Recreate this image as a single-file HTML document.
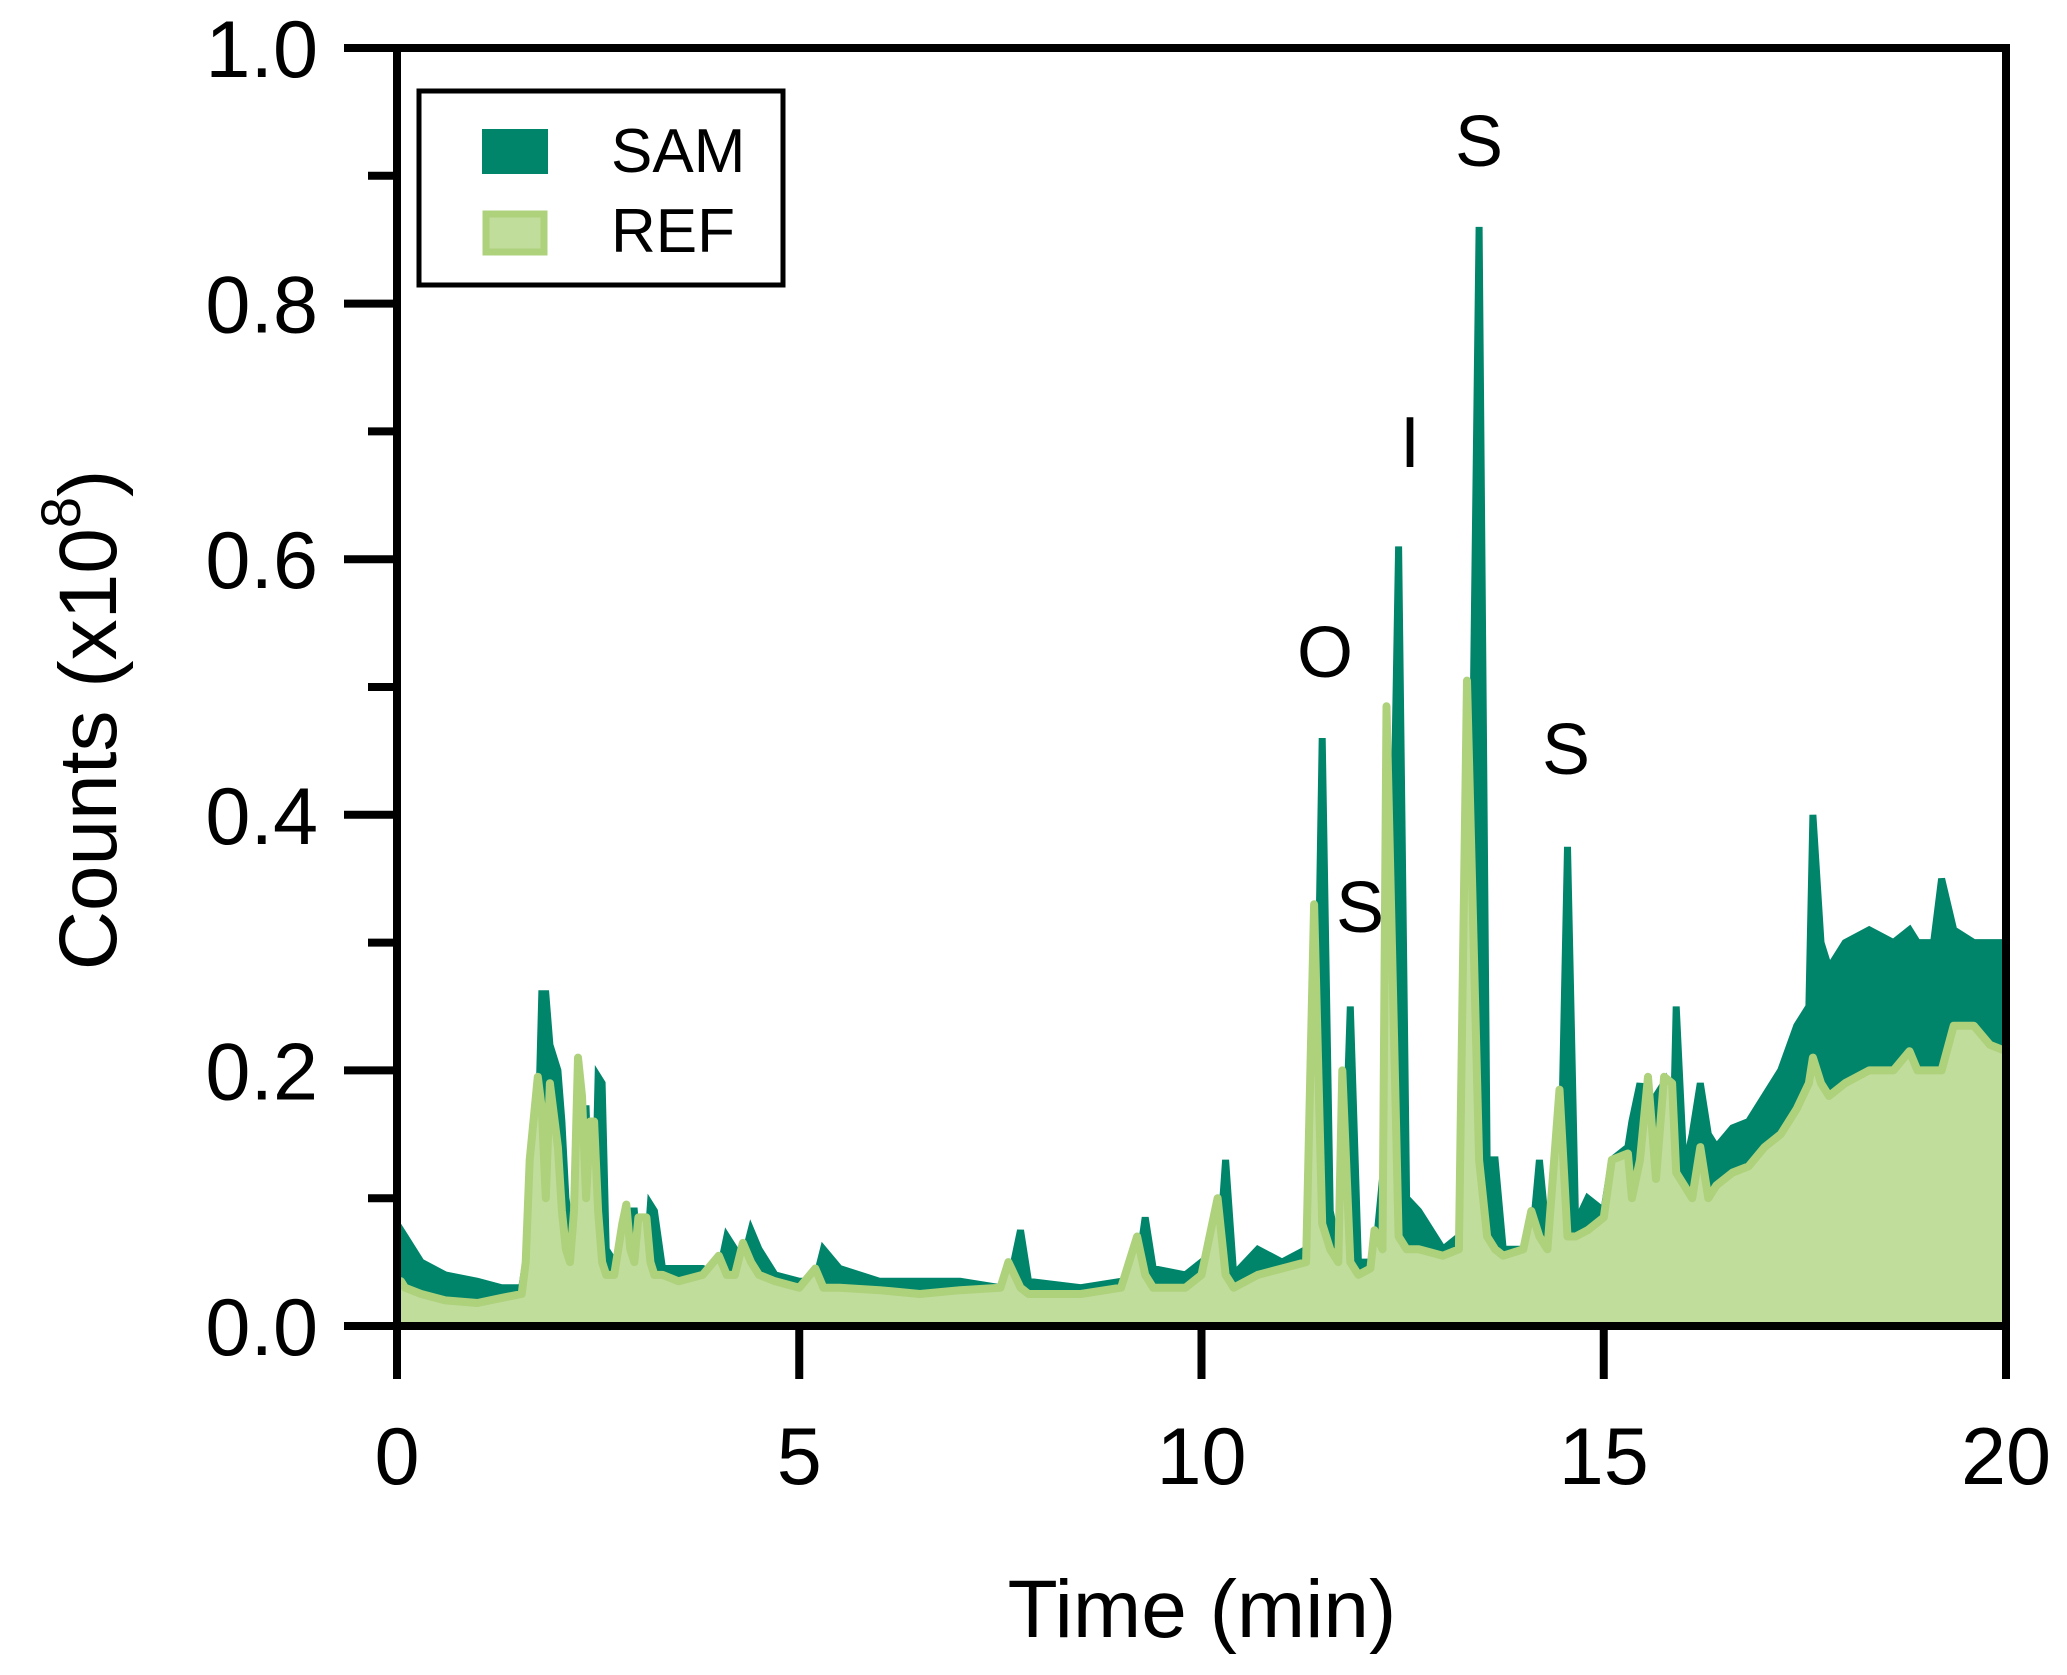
<!DOCTYPE html>
<html><head><meta charset="utf-8"><style>
html,body{margin:0;padding:0;background:#fff;}
svg{display:block;font-family:"Liberation Sans",sans-serif;}
</style></head><body>
<svg id="chart" width="2067" height="1675" viewBox="0 0 2067 1675" xmlns="http://www.w3.org/2000/svg">
<g id="plot"></g>
<g id="axes"></g>
<text x="1202" y="1637" font-size="82" text-anchor="middle">Time (min)</text>
<text transform="translate(116,720) rotate(-90)" font-size="82" text-anchor="middle">Counts (x10<tspan font-size="56" dy="-36">8</tspan><tspan dy="36">)</tspan></text>
<g>
<rect x="419" y="91" width="364" height="194" fill="#fff" stroke="#000" stroke-width="5"/>
<rect x="482" y="129" width="66" height="45" fill="#00856b"/>
<text x="611" y="172" font-size="62">SAM</text>
<rect x="486" y="214" width="58" height="38" fill="#c1dd9c" stroke="#aed17c" stroke-width="7"/>
<text x="611" y="252" font-size="62">REF</text>
</g>
<g font-size="72" text-anchor="middle">
<text x="1479" y="166">S</text>
<text x="1410" y="467">I</text>
<text x="1325" y="677">O</text>
<text x="1360" y="932">S</text>
<text x="1566" y="774">S</text>
</g>
</svg>
<script>
const times=[0,0.05,0.1,0.3,0.6,1.0,1.3,1.55,1.6,1.65,1.75,1.8,1.85,1.9,2.0,2.05,2.1,2.15,2.2,2.25,2.3,2.35,2.4,2.45,2.5,2.55,2.6,2.7,2.8,2.85,2.9,2.95,3.0,3.1,3.15,3.2,3.3,3.5,3.8,4.0,4.1,4.2,4.3,4.4,4.5,4.7,5.0,5.2,5.3,5.5,6.0,6.5,7.0,7.5,7.6,7.75,7.85,8.5,9.0,9.2,9.3,9.4,9.8,10.0,10.2,10.3,10.4,10.7,11.0,11.3,11.4,11.5,11.6,11.7,11.75,11.85,11.95,12.1,12.15,12.25,12.3,12.45,12.55,12.7,13.0,13.2,13.3,13.45,13.55,13.65,13.75,14.0,14.1,14.2,14.3,14.45,14.55,14.65,14.8,15.0,15.1,15.3,15.35,15.45,15.55,15.65,15.75,15.85,15.9,16.0,16.1,16.2,16.3,16.4,16.6,16.8,17.0,17.2,17.4,17.55,17.6,17.7,17.8,18.0,18.3,18.6,18.8,18.9,19.1,19.2,19.35,19.6,19.8,20.0];
const samValues=[0.04,0.075,0.07,0.05,0.04,0.035,0.03,0.03,0.05,0.13,0.14,0.26,0.26,0.22,0.20,0.16,0.10,0.08,0.06,0.10,0.17,0.17,0.08,0.06,0.195,0.19,0.06,0.05,0.05,0.06,0.09,0.09,0.05,0.05,0.095,0.09,0.045,0.045,0.045,0.04,0.07,0.06,0.05,0.075,0.06,0.04,0.035,0.035,0.06,0.045,0.035,0.035,0.035,0.03,0.03,0.075,0.035,0.03,0.035,0.04,0.085,0.045,0.04,0.05,0.04,0.13,0.04,0.06,0.05,0.06,0.07,0.46,0.09,0.06,0.06,0.25,0.05,0.05,0.05,0.115,0.06,0.61,0.10,0.09,0.06,0.07,0.08,0.86,0.13,0.13,0.06,0.06,0.06,0.13,0.065,0.07,0.375,0.08,0.10,0.09,0.13,0.14,0.16,0.19,0.10,0.18,0.19,0.11,0.25,0.12,0.15,0.19,0.15,0.14,0.155,0.16,0.18,0.20,0.235,0.25,0.40,0.30,0.28,0.30,0.31,0.30,0.31,0.30,0.30,0.35,0.31,0.30,0.30,0.30];
const refValues=[0.03,0.035,0.03,0.025,0.02,0.018,0.022,0.025,0.05,0.13,0.195,0.17,0.10,0.19,0.14,0.09,0.06,0.05,0.09,0.21,0.18,0.10,0.16,0.16,0.09,0.05,0.04,0.04,0.08,0.095,0.06,0.05,0.085,0.085,0.05,0.04,0.04,0.035,0.04,0.055,0.04,0.04,0.065,0.05,0.04,0.035,0.03,0.045,0.03,0.03,0.028,0.025,0.028,0.03,0.05,0.03,0.025,0.025,0.03,0.07,0.04,0.03,0.03,0.04,0.10,0.04,0.03,0.04,0.045,0.05,0.33,0.08,0.06,0.05,0.20,0.05,0.04,0.045,0.075,0.06,0.485,0.07,0.06,0.06,0.055,0.06,0.505,0.13,0.07,0.06,0.055,0.06,0.09,0.07,0.06,0.185,0.07,0.07,0.075,0.085,0.13,0.135,0.10,0.13,0.195,0.115,0.195,0.19,0.12,0.11,0.10,0.14,0.10,0.11,0.12,0.125,0.14,0.15,0.17,0.19,0.21,0.19,0.18,0.19,0.20,0.20,0.215,0.20,0.20,0.20,0.235,0.235,0.22,0.215];
const yTickValues=[0,0.2,0.4,0.6,0.8,1.0];
const yTickLabels=["0.0","0.2","0.4","0.6","0.8","1.0"];
const yMinorTicks=[0.1,0.3,0.5,0.7,0.9];
const xTickValues=[0,5,10,15,20];
const xTickLabels=["0","5","10","15","20"];

const X0=397,X1=2006,Y0=1326,Y1=48;
const xs=t=>X0+(t/20)*(X1-X0);
const ys=v=>Y0-v*(Y0-Y1);
const NS="http://www.w3.org/2000/svg";
const plot=document.getElementById('plot');
const axes=document.getElementById('axes');
function mk(tag,parent){const e=document.createElementNS(NS,tag);parent.appendChild(e);return e;}
function areaPath(vals){let d='M'+xs(times[0])+','+Y0;for(let i=0;i<times.length;i++)d+=' L'+xs(times[i]).toFixed(1)+','+ys(vals[i]).toFixed(1);d+=' L'+xs(times[times.length-1])+','+Y0+' Z';return d;}
function linePath(vals){let d='';for(let i=0;i<times.length;i++)d+=(i?' L':'M')+xs(times[i]).toFixed(1)+','+ys(vals[i]).toFixed(1);return d;}

const sam=mk('path',plot);


sam.setAttribute('d',areaPath(samValues));
sam.setAttribute('fill','#00856b');
sam.setAttribute('stroke','#00856b');
sam.setAttribute('stroke-width','7');
sam.setAttribute('stroke-linejoin','miter');

const ref=mk('path',plot);


ref.setAttribute('d',areaPath(refValues));
ref.setAttribute('fill','#c1dd9c');

const refLine=mk('path',plot);


refLine.setAttribute('d',linePath(refValues));
refLine.setAttribute('fill','none');
refLine.setAttribute('stroke','#aed17c');
refLine.setAttribute('stroke-width','8');
refLine.setAttribute('stroke-linejoin','round');

const frame=mk('path',axes);


frame.setAttribute('d',`M${X0},${Y1} L${X1},${Y1} L${X1},${Y0} L${X0},${Y0} Z`);
frame.setAttribute('fill','none');
frame.setAttribute('stroke','#000');
frame.setAttribute('stroke-width','8');

yTickValues.forEach((v,i)=>{
  const l=mk('line',axes);
  
  
  l.setAttribute('x1',X0-53);l.setAttribute('x2',X0);
  l.setAttribute('y1',ys(v));l.setAttribute('y2',ys(v));
  l.setAttribute('stroke','#000');l.setAttribute('stroke-width','8');
  const t=mk('text',axes);
  
  
  t.setAttribute('x',318);t.setAttribute('y',ys(v)+29);
  t.setAttribute('font-size','81');t.setAttribute('text-anchor','end');
  t.textContent=yTickLabels[i];
});
yMinorTicks.forEach(v=>{
  const l=mk('line',axes);
  
  
  l.setAttribute('x1',X0-29);l.setAttribute('x2',X0);
  l.setAttribute('y1',ys(v));l.setAttribute('y2',ys(v));
  l.setAttribute('stroke','#000');l.setAttribute('stroke-width','8');
});
xTickValues.forEach((v,i)=>{
  const l=mk('line',axes);
  
  
  l.setAttribute('x1',xs(v));l.setAttribute('x2',xs(v));
  l.setAttribute('y1',Y0);l.setAttribute('y2',Y0+53);
  l.setAttribute('stroke','#000');l.setAttribute('stroke-width','8');
  const t=mk('text',axes);
  
  
  t.setAttribute('x',xs(v));t.setAttribute('y',1484);
  t.setAttribute('font-size','81');t.setAttribute('text-anchor','middle');
  t.textContent=xTickLabels[i];
});
</script>
</body></html>
